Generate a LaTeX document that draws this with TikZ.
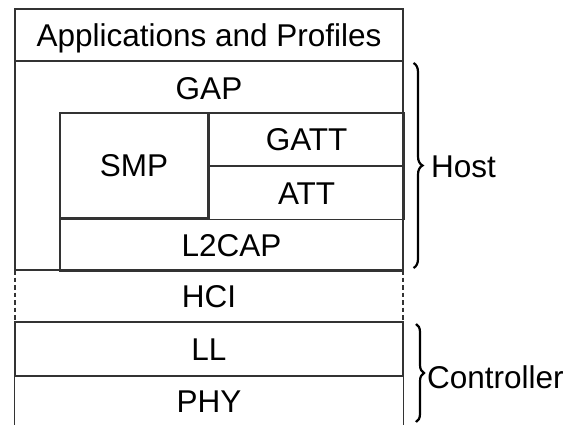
\documentclass[tikz,border=0pt]{standalone}
\usepackage{fontspec}
\setmainfont{Liberation Sans}
\usetikzlibrary{positioning,decorations.pathreplacing}
\definecolor{linegray}{HTML}{333333}
\begin{document}
\begin{tikzpicture}[x=1pt,y=-1pt,
  frame/.style={draw=linegray, line width=1.1pt},
  layer/.style={frame, inner sep=0pt, minimum height=52pt,
    font=\fontsize{31.5}{31.5}\selectfont, text height=22.5pt, text depth=0pt},
  label/.style={inner sep=0pt, font=\fontsize{31.5}{31.5}\selectfont,
    text height=22.5pt, text depth=0pt},
  bracket/.style={decorate, decoration={brace, amplitude=#1}, line width=2.2pt}
]
\useasboundingbox (0,0) rectangle (575,425);

% host side
\node[layer, minimum width=388pt] (app) at (209,35) {Applications and Profiles};
\draw[frame] (15,61) rectangle (403,270);
\node[label] (gap) at (209,88) {GAP};
\node[layer, minimum width=148pt, minimum height=105pt] (smp) at (134,165.5) {SMP};
\node[layer, minimum width=195pt, minimum height=52.5pt, anchor=north west] (gatt) at (smp.north east) {GATT};
\node[layer, minimum width=195pt, minimum height=52.5pt, anchor=north west] (att) at (gatt.south west) {ATT};
\node[layer, minimum width=343pt, anchor=north west] (l2cap) at (smp.south west) {L2CAP};

% interface
\node[label] (hci) at (209,296) {HCI};
\draw[frame, dash pattern=on 4.5pt off 3pt] (15,270) -- (15,322) (403,270) -- (403,322);

% controller side
\node[layer, minimum width=388pt, minimum height=54pt] (ll) at (209,349) {LL};
\node[label] (phy) at (209,401) {PHY};
\draw[frame] (ll.south west) -- ++(0,50) (ll.south east) -- ++(0,50);

% braces
\coordinate (hosttop) at (413.5,63);
\coordinate (hostbot) at (413.5,268);
\draw[bracket=9pt] (hosttop) -- (hostbot);
\node[label, anchor=west] (host) at (431,166) {Host};
\coordinate (ctrltop) at (416,324);
\coordinate (ctrlbot) at (416,422);
\draw[bracket=8pt] (ctrltop) -- (ctrlbot);
\node[label, anchor=west] (ctrl) at (427,377) {Controller};
\end{tikzpicture}
\end{document}
